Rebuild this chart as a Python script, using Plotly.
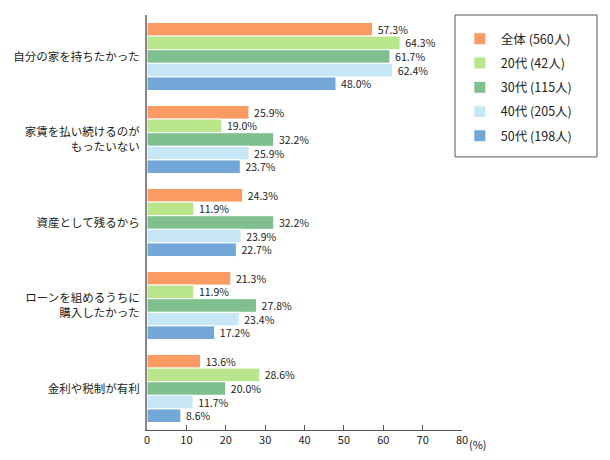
import plotly.graph_objects as go

categories = ["自分の家を持ちたかった", "家賃を払い続けるのが<br>もったいない", "資産として残るから",
              "ローンを組めるうちに<br>購入したかった", "金利や税制が有利"]
series_names = ["全体 (560人)", "20代 (42人)", "30代 (115人)", "40代 (205人)", "50代 (198人)"]
all_vals = [57.3, 25.9, 24.3, 21.3, 13.6]
v20 = [64.3, 19.0, 11.9, 11.9, 28.6]
v30 = [61.7, 32.2, 32.2, 27.8, 20.0]
v40 = [62.4, 25.9, 23.9, 23.4, 11.7]
v50 = [48.0, 23.7, 22.7, 17.2, 8.6]
colors = ["#F99B62", "#B9E68A", "#80C08E", "#C7E7F6", "#73A7D7"]
x_ticks = [0, 10, 20, 30, 40, 50, 60, 70, 80]

font_family = "Noto Sans CJK JP, Noto Sans, sans-serif"
fig = go.Figure()
for name, vals, c in zip(series_names, [all_vals, v20, v30, v40, v50], colors):
    fig.add_trace(go.Bar(
        y=categories, x=vals, name=name, orientation="h",
        marker=dict(color=c, line=dict(color="white", width=1)),
        text=[f"\u2009{v:.1f}%" for v in vals], textposition="outside",
        constraintext="none",
        textfont=dict(size=10.5, color="#222"), cliponaxis=False,
        legendgroup=name,
    ))

fig.update_layout(
    width=610, height=460,
    margin=dict(l=147, r=148, t=15, b=30),
    barmode="group", bargap=0.18, bargroupgap=0,
    plot_bgcolor="white", paper_bgcolor="white",
    font=dict(family=font_family, size=12, color="#222"),
    showlegend=True,
    legend=dict(x=0.99, xanchor="left", y=0.978, yanchor="top",
                borderwidth=0, bgcolor="rgba(0,0,0,0)", font=dict(size=12.5),
                tracegroupgap=5, itemwidth=32, traceorder="grouped"),
    shapes=[dict(type="rect", xref="paper", yref="paper", x0=0.9778, x1=1.4286,
                 y0=0.658, y1=1.0, line=dict(color="#555", width=1))],
    xaxis=dict(range=[0, 80], tickvals=x_ticks, ticktext=[str(t) for t in x_ticks],
               showgrid=False, zeroline=False, showline=True, linecolor="#555", linewidth=1,
               ticks="inside", ticklen=5, tickcolor="#555", tickfont=dict(size=11),
               automargin=False),
    yaxis=dict(autorange="reversed", showgrid=False, zeroline=False, showline=True,
               linecolor="#888", linewidth=2, ticks="", ticklabelstandoff=3,
               tickfont=dict(size=11.5), automargin=False),
    annotations=[dict(text="(%)", x=1, xref="paper", xanchor="left", xshift=5,
                      y=0, yref="paper", yanchor="top", yshift=-4, showarrow=False,
                      font=dict(size=11, color="#222"))],
)
fig.write_html("out.html")
